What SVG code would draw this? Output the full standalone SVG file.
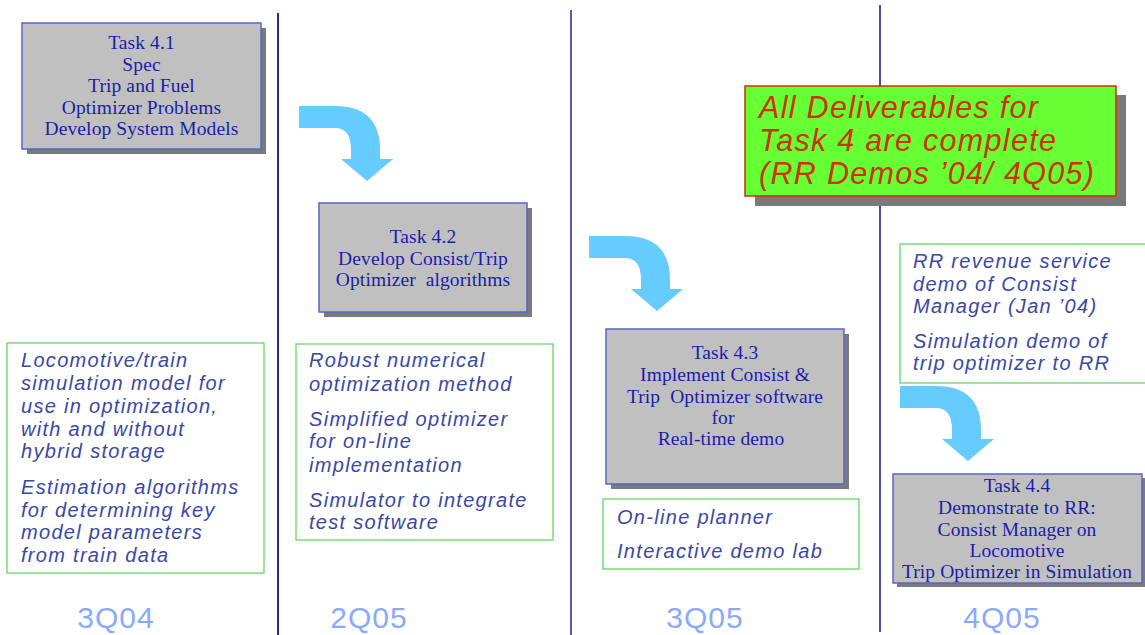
<svg xmlns="http://www.w3.org/2000/svg" width="1145" height="635" viewBox="0 0 1145 635">
  <style>
    .divider { stroke-width: 2; fill: none; }
    .task { fill: #c0c0c0; stroke: #5566c8; stroke-width: 1.5; }
    .shadow { fill: #7a7a7a; }
    .task-text { font-family: "Liberation Serif", "Times New Roman", serif; font-size: 19.5px; letter-spacing: 0.1px; fill: #1c1ca8; text-anchor: middle; white-space: pre; }
    .deliv { fill: #ffffff; stroke: #55d655; stroke-width: 1.2; }
    .deliv-text { font-family: "Liberation Sans", Arial, sans-serif; font-style: italic; font-size: 20px; letter-spacing: 1.3px; fill: #3848a8; }
    .quarter { font-family: "Liberation Sans", Arial, sans-serif; font-size: 30px; letter-spacing: 1px; fill: #88aaff; text-anchor: middle; }
    .flow { fill: #66ccff; }
    .done-box { fill: #66ff33; stroke: #cc3300; stroke-width: 1.5; }
    .done-text { font-family: "Liberation Sans", Arial, sans-serif; font-style: italic; font-size: 30.5px; letter-spacing: 1.3px; fill: #cc3300; }
  </style>
  <defs>
    <!-- curved hand-off arrow, drawn at the 3Q05 position -->
    <path id="bend" d="M589,236 L625,236 Q670,236 670,280 L670,289 L683,289 L657,311 L631,289 L641,289 L641,280 Q641,258 625,258 L589,258 Z"/>
  </defs>

  <!-- quarter dividers -->
  <g id="dividers">
    <line class="divider" x1="278" y1="13" x2="278" y2="635" stroke="#2a2aa0"/>
    <line class="divider" x1="571" y1="10" x2="571" y2="635" stroke="#5a5aaa"/>
    <line class="divider" x1="880" y1="5" x2="880" y2="632" stroke="#4a4aaa"/>
  </g>

  <!-- flow arrows between tasks -->
  <g id="connectors">
    <use href="#bend" class="flow" transform="translate(-290,-130)"/>
    <use href="#bend" class="flow"/>
    <use href="#bend" class="flow" transform="translate(311,150)"/>
  </g>

  <g id="task41">
    <rect class="shadow" x="27" y="28" width="239" height="126"/>
    <rect class="task" x="22" y="23" width="239" height="126"/>
    <text class="task-text" x="141.5" y="49">Task 4.1</text>
    <text class="task-text" x="141.5" y="70.5">Spec</text>
    <text class="task-text" x="141.5" y="92">Trip and Fuel</text>
    <text class="task-text" x="141.5" y="113.5">Optimizer Problems</text>
    <text class="task-text" x="141.5" y="135">Develop System Models</text>
  </g>

  <g id="task42">
    <rect class="shadow" x="324" y="208" width="208" height="109"/>
    <rect class="task" x="319" y="203" width="208" height="109"/>
    <text class="task-text" x="423" y="243">Task 4.2</text>
    <text class="task-text" x="423" y="265">Develop Consist/Trip</text>
    <text class="task-text" x="423" y="286">Optimizer  algorithms</text>
  </g>

  <g id="task43">
    <rect class="shadow" x="611" y="334" width="238" height="155"/>
    <rect class="task" x="606" y="329" width="238" height="155"/>
    <text class="task-text" x="725" y="359">Task 4.3</text>
    <text class="task-text" x="725" y="381">Implement Consist &amp;</text>
    <text class="task-text" x="725" y="403">Trip  Optimizer software</text>
    <text class="task-text" x="723" y="424">for</text>
    <text class="task-text" x="721" y="445">Real-time demo</text>
  </g>

  <g id="task44">
    <rect class="shadow" x="897" y="478" width="249" height="109"/>
    <rect class="task" x="893" y="474" width="249" height="109"/>
    <text class="task-text" x="1017" y="492">Task 4.4</text>
    <text class="task-text" x="1017" y="514">Demonstrate to RR:</text>
    <text class="task-text" x="1017" y="536">Consist Manager on</text>
    <text class="task-text" x="1017" y="557">Locomotive</text>
    <text class="task-text" x="1017" y="578">Trip Optimizer in Simulation</text>
  </g>

  <g id="complete">
    <rect class="shadow" x="755" y="95" width="371" height="111"/>
    <rect class="done-box" x="745" y="86" width="371" height="110"/>
    <text class="done-text" x="759" y="118">All Deliverables for</text>
    <text class="done-text" x="759" y="151">Task 4 are complete</text>
    <text class="done-text" x="759" y="184">(RR Demos ’04/ 4Q05)</text>
  </g>

  <g id="deliverables-3q04">
    <rect class="deliv" x="7" y="343" width="257" height="230"/>
    <text class="deliv-text" x="21" y="367">Locomotive/train</text>
    <text class="deliv-text" x="21" y="390">simulation model for</text>
    <text class="deliv-text" x="21" y="413">use in optimization,</text>
    <text class="deliv-text" x="21" y="436">with and without</text>
    <text class="deliv-text" x="21" y="458">hybrid storage</text>
    <text class="deliv-text" x="21" y="494">Estimation algorithms</text>
    <text class="deliv-text" x="21" y="517">for determining key</text>
    <text class="deliv-text" x="21" y="539">model parameters</text>
    <text class="deliv-text" x="21" y="562">from train data</text>
  </g>

  <g id="deliverables-2q05">
    <rect class="deliv" x="296" y="344" width="257" height="196"/>
    <text class="deliv-text" x="309" y="367">Robust numerical</text>
    <text class="deliv-text" x="309" y="391">optimization method</text>
    <text class="deliv-text" x="309" y="426">Simplified optimizer</text>
    <text class="deliv-text" x="309" y="448">for on-line</text>
    <text class="deliv-text" x="309" y="472">implementation</text>
    <text class="deliv-text" x="309" y="507">Simulator to integrate</text>
    <text class="deliv-text" x="309" y="529">test software</text>
  </g>

  <g id="deliverables-3q05">
    <rect class="deliv" x="603" y="499" width="256" height="70"/>
    <text class="deliv-text" x="617" y="524">On-line planner</text>
    <text class="deliv-text" x="617" y="558">Interactive demo lab</text>
  </g>

  <g id="deliverables-4q05">
    <rect class="deliv" x="900" y="244" width="260" height="139"/>
    <text class="deliv-text" x="913" y="268">RR revenue service</text>
    <text class="deliv-text" x="913" y="291">demo of Consist</text>
    <text class="deliv-text" x="913" y="313">Manager (Jan ’04)</text>
    <text class="deliv-text" x="913" y="348">Simulation demo of</text>
    <text class="deliv-text" x="913" y="370">trip optimizer to RR</text>
  </g>

  <g id="quarters">
    <text class="quarter" x="116" y="628">3Q04</text>
    <text class="quarter" x="369" y="628">2Q05</text>
    <text class="quarter" x="705" y="628">3Q05</text>
    <text class="quarter" x="1002" y="628">4Q05</text>
  </g>
</svg>
